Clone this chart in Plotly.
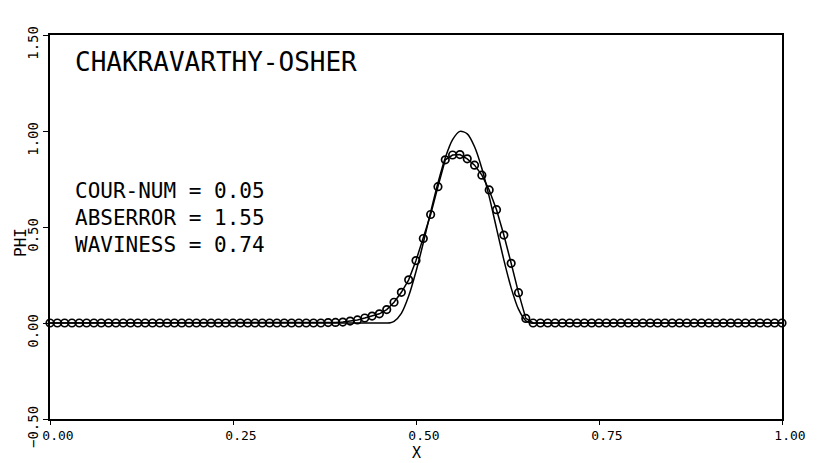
import plotly.graph_objects as go

# Numerical solution (Chakravarthy-Osher), grid spacing 0.01
x_num = [round(i * 0.01, 2) for i in range(101)]
pulse_num = {
    0.38: 0.002, 0.39: 0.003, 0.40: 0.005, 0.41: 0.010, 0.42: 0.016,
    0.43: 0.026, 0.44: 0.036, 0.45: 0.048, 0.46: 0.070, 0.47: 0.108,
    0.48: 0.160, 0.49: 0.225, 0.50: 0.325, 0.51: 0.440, 0.52: 0.565,
    0.53: 0.710, 0.54: 0.850, 0.55: 0.875, 0.56: 0.877, 0.57: 0.855,
    0.58: 0.822, 0.59: 0.770, 0.60: 0.693, 0.61: 0.590, 0.62: 0.458,
    0.63: 0.311, 0.64: 0.158, 0.65: 0.024,
}
y_num = [pulse_num.get(x, 0.0) for x in x_num]

# Exact solution
x_exact = [0.0, 0.45, 0.46, 0.465, 0.47, 0.48, 0.49, 0.50, 0.51, 0.52, 0.53, 0.54, 0.55,
           0.56, 0.57, 0.58, 0.59, 0.60, 0.61, 0.62, 0.63, 0.64, 0.65, 0.657, 0.67, 1.0]
y_exact = [0.0, 0.0, 0.0, 0.001, 0.008, 0.050, 0.140, 0.268, 0.418, 0.578, 0.730, 0.861,
           0.955, 0.998, 0.985, 0.918, 0.805, 0.658, 0.493, 0.329, 0.183, 0.072,
           0.012, 0.0, 0.0, 0.0]

x_ticks = [0.0, 0.25, 0.5, 0.75, 1.0]
y_ticks = [-0.5, 0.0, 0.5, 1.0, 1.5]

title_text = "CHAKRAVARTHY-OSHER"
stats_text = ["COUR-NUM = 0.05", "ABSERROR = 1.55", "WAVINESS = 0.74"]

FONT = "DejaVu Sans Mono"

fig = go.Figure()
fig.add_trace(go.Scatter(
    x=x_exact, y=y_exact, mode="lines", line=dict(color="black", width=1.5, shape="spline", smoothing=0.8),
    hoverinfo="skip", showlegend=False))
fig.add_trace(go.Scatter(
    x=x_num, y=y_num, mode="lines+markers",
    line=dict(color="black", width=1.5),
    marker=dict(symbol="circle-open", size=7.5, color="black", line=dict(width=1.7)),
    cliponaxis=False, showlegend=False))

fig.update_layout(
    width=817, height=463,
    margin=dict(l=50, r=35, t=35, b=44),
    paper_bgcolor="white", plot_bgcolor="white",
    font=dict(family=FONT, color="black"),
    showlegend=False,
)
fig.update_xaxes(
    range=[0, 1], tickvals=x_ticks, tickformat=".2f",
    showline=True, mirror=True, linecolor="black", linewidth=1.5,
    ticks="outside", ticklen=4, tickcolor="black", showgrid=False, zeroline=False,
    tickfont=dict(family=FONT, size=13, color="black"), ticklabelshift=8,
    ticklabelstandoff=0,
)
fig.update_yaxes(
    range=[-0.5, 1.5], tickvals=y_ticks, tickformat=".2f", tickangle=-90,
    showline=True, mirror=True, linecolor="black", linewidth=1.5,
    ticks="outside", ticklen=5, tickcolor="black", showgrid=False, zeroline=False,
    tickfont=dict(family=FONT, size=14, color="black"), ticklabelshift=10,
)

fig.add_annotation(xref="paper", yref="paper", x=23 / 732, y=1 - (62 - 35) / 384,
                   xanchor="left", yanchor="middle", showarrow=False,
                   text=title_text, font=dict(family=FONT, size=26, color="black"))
for i, (t, yc) in enumerate(zip(stats_text, [191.5, 218, 245])):
    fig.add_annotation(xref="paper", yref="paper", x=23 / 732, y=1 - (yc - 35) / 384,
                       xanchor="left", yanchor="middle", showarrow=False,
                       text=t, font=dict(family=FONT, size=21, color="black"))

fig.add_annotation(xref="paper", yref="paper", x=-30 / 732, y=1 - (243 - 35) / 384,
                   xanchor="center", yanchor="middle", showarrow=False, textangle=-90,
                   text="PHI", font=dict(family=FONT, size=16, color="black"))
fig.add_annotation(xref="paper", yref="paper", x=(416 - 50) / 732, y=-(453 - 419) / 384,
                   xanchor="center", yanchor="middle", showarrow=False,
                   text="X", font=dict(family=FONT, size=15, color="black"))

fig.write_html("out.html", config={"displayModeBar": False},
               post_script="document.body.style.margin='0';")
